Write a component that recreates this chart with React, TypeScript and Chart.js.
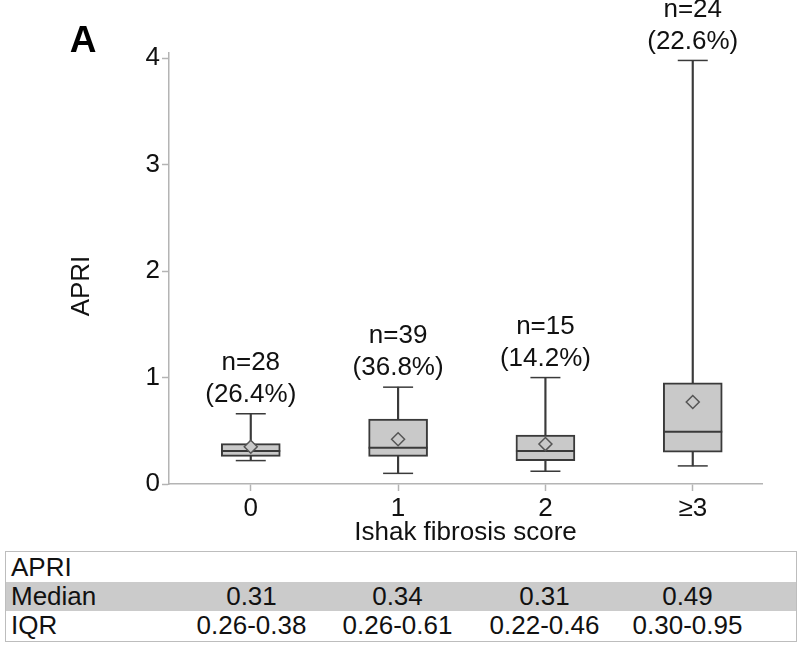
import React, { useEffect, useRef } from "react";
import { Chart, registerables } from "chart.js";

Chart.register(...registerables);

const categories = ["0", "1", "2", "≥3"];
const whiskerLow = [0.22, 0.1, 0.12, 0.17];
const q1 = [0.26, 0.26, 0.22, 0.3];
const medians = [0.31, 0.34, 0.31, 0.49];
const q3 = [0.38, 0.61, 0.46, 0.95];
const whiskerHigh = [0.66, 0.91, 1.0, 3.98];
const means = [0.35, 0.42, 0.375, 0.77];
const counts = [28, 39, 15, 24];
const percents = ["26.4%", "36.8%", "14.2%", "22.6%"];
const yTicks = [0, 1, 2, 3, 4];

const tableTitle = "APRI";
const medianLabels = ["0.31", "0.34", "0.31", "0.49"];
const iqrLabels = ["0.26-0.38", "0.26-0.61", "0.22-0.46", "0.30-0.95"];

const FONT = "'Liberation Sans', Arial, Helvetica, sans-serif";
const FS = 26;
const AXIS_COLOR = "#b4b4b4";
const DARK = "#3a3a3a";
const BOX_FILL = "#c9c9c9";

const pts = (arr: number[]) => arr.map((v, i) => ({ x: i, y: v }));

const labelPlugin = {
  id: "boxLabels",
  afterDatasetsDraw(chart: any) {
    const ctx = chart.ctx;
    const xs = chart.scales.x;
    const ys = chart.scales.y;
    ctx.save();
    ctx.fillStyle = "#111";
    ctx.font = `${FS}px ${FONT}`;
    ctx.textAlign = "center";
    ctx.textBaseline = "middle";
    for (let i = 0; i < categories.length; i++) {
      const x = xs.getPixelForValue(i);
      const yTop = ys.getPixelForValue(whiskerHigh[i]);
      ctx.fillText(`(${percents[i]})`, x, yTop - 19);
      ctx.fillText(`n=${counts[i]}`, x, yTop - 51);
    }
    ctx.save();
    ctx.translate(82, 286);
    ctx.rotate(-Math.PI / 2);
    ctx.fillText("APRI", 0, 0);
    ctx.restore();
    ctx.font = `bold 37px ${FONT}`;
    ctx.fillStyle = "#000";
    ctx.fillText("A", 83, 42);
    ctx.restore();
  },
};

function BoxChart() {
  const ref = useRef<HTMLCanvasElement | null>(null);
  useEffect(() => {
    if (!ref.current) return;
    const chart = new Chart(ref.current, {
      type: "bar",
      data: {
        datasets: [
          {
            type: "line",
            label: "mean",
            data: pts(means),
            showLine: false,
            pointStyle: "rectRot",
            pointRadius: 6.5,
            pointBackgroundColor: BOX_FILL,
            pointBorderColor: "#555",
            pointBorderWidth: 1.5,
          } as any,
          {
            type: "line",
            label: "median",
            data: pts(medians),
            showLine: false,
            pointStyle: "line",
            pointRadius: 29.5,
            pointBorderColor: DARK,
            pointBorderWidth: 2,
          } as any,
          {
            type: "bar",
            label: "box",
            data: q1.map((v, i) => ({ x: i, y: [v, q3[i]] })),
            backgroundColor: BOX_FILL,
            borderColor: DARK,
            borderWidth: 2,
            borderSkipped: false,
            barThickness: 59,
            grouped: false,
          } as any,
          {
            type: "bar",
            label: "whisker",
            data: whiskerLow.map((v, i) => ({ x: i, y: [v, whiskerHigh[i]] })),
            backgroundColor: DARK,
            borderWidth: 0,
            barThickness: 1.5,
            grouped: false,
          } as any,
          {
            type: "line",
            label: "capLow",
            data: pts(whiskerLow),
            showLine: false,
            pointStyle: "line",
            pointRadius: 15,
            pointBorderColor: DARK,
            pointBorderWidth: 1.5,
          } as any,
          {
            type: "line",
            label: "capHigh",
            data: pts(whiskerHigh),
            showLine: false,
            pointStyle: "line",
            pointRadius: 15,
            pointBorderColor: DARK,
            pointBorderWidth: 1.5,
          } as any,
        ],
      },
      options: {
        responsive: false,
        animation: false,
        events: [],
        layout: { padding: { top: 53, left: 0, right: 38, bottom: 0 } },
        plugins: {
          legend: { display: false },
          tooltip: { enabled: false },
        },
        scales: {
          x: {
            type: "linear",
            offset: false,
            min: -0.555,
            max: 3.47,
            afterBuildTicks: (s: any) => {
              s.ticks = categories.map((_, i) => ({ value: i }));
            },
            grid: {
              offset: false,
              drawOnChartArea: false,
              drawTicks: true,
              tickLength: 7,
              tickColor: AXIS_COLOR,
              tickWidth: 1.5,
            },
            border: { display: true, color: AXIS_COLOR, width: 1.5 },
            ticks: {
              color: "#111",
              font: { family: FONT, size: FS },
              padding: 2,
              maxRotation: 0,
              callback: (v: any) => categories[Math.round(v)] ?? "",
            },
            title: {
              display: true,
              text: "Ishak fibrosis score",
              color: "#111",
              font: { family: FONT, size: FS },
              padding: { top: 0, bottom: 0 },
            },
            afterFit: (s: any) => {
              s.height = 64;
            },
          },
          y: {
            type: "linear",
            min: 0,
            max: 4.05,
            afterBuildTicks: (s: any) => {
              s.ticks = yTicks.map((v) => ({ value: v }));
            },
            grid: {
              drawOnChartArea: false,
              drawTicks: true,
              tickLength: 7,
              tickColor: AXIS_COLOR,
              tickWidth: 1.5,
            },
            border: { display: true, color: AXIS_COLOR, width: 1.5 },
            ticks: {
              color: "#111",
              font: { family: FONT, size: FS },
              padding: 2,
              callback: (v: any) => String(v),
            },
            afterFit: (s: any) => {
              s.width = 169;
            },
          },
        },
      } as any,
      plugins: [labelPlugin],
    });
    return () => chart.destroy();
  }, []);
  return <canvas ref={ref} width={800} height={548} style={{ display: "block" }} />;
}

const colCenters = [245.5, 391.5, 538.5, 681.5];

function StatsTable() {
  const rowStyle = (top: number, h: number, bg?: string): React.CSSProperties => ({
    position: "absolute",
    left: 0,
    right: 0,
    top,
    height: h,
    lineHeight: `${h}px`,
    background: bg || "transparent",
  });
  const cell = (text: string, c: number, key: string) => (
    <div
      key={key}
      style={{ position: "absolute", left: c - 80, width: 160, textAlign: "center", top: 0 }}
    >
      {text}
    </div>
  );
  return (
    <div
      style={{
        position: "absolute",
        left: 5,
        top: 551,
        width: 792,
        height: 91,
        boxSizing: "border-box",
        border: "1.5px solid #bdbdbd",
        background: "#fff",
        fontFamily: FONT,
        fontSize: FS,
        color: "#111",
      }}
    >
      <div style={rowStyle(0, 30)}>
        <span style={{ position: "absolute", left: 5 }}>{tableTitle}</span>
      </div>
      <div style={rowStyle(30, 29, "#cbcbcb")}>
        <span style={{ position: "absolute", left: 5 }}>Median</span>
        {medianLabels.map((t, i) => cell(t, colCenters[i], "m" + i))}
      </div>
      <div style={rowStyle(59, 29)}>
        <span style={{ position: "absolute", left: 5 }}>IQR</span>
        {iqrLabels.map((t, i) => cell(t, colCenters[i], "q" + i))}
      </div>
    </div>
  );
}

export default function App() {
  return (
    <div
      style={{
        position: "absolute",
        left: 0,
        top: 0,
        width: 800,
        height: 645,
        background: "#fff",
        overflow: "hidden",
      }}
    >
      <BoxChart />
      <StatsTable />
    </div>
  );
}
